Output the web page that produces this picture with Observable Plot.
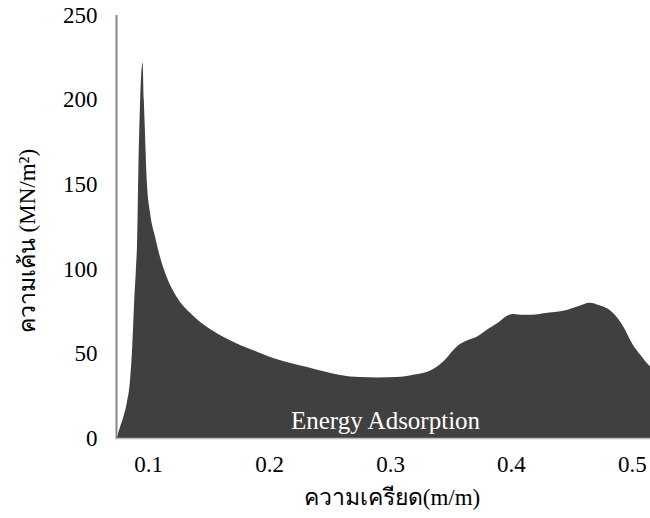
<!DOCTYPE html>
<html>
<head>
<meta charset="utf-8">
<script src="https://cdn.jsdelivr.net/npm/d3@7"></script>
<script src="https://cdn.jsdelivr.net/npm/@observablehq/plot@0.6"></script>
<style>
  html, body { margin: 0; padding: 0; background: #fff; }
  #chart svg { display: block; }
</style>
</head>
<body>
<div id="chart"></div>
<script>
const strain = [0.0741, 0.0769, 0.0796, 0.0824, 0.0851, 0.0870, 0.0885, 0.0900, 0.0910, 0.0920, 0.0935, 0.0955, 0.0965, 0.0975, 0.0989, 0.1017, 0.1058, 0.1099, 0.1155, 0.1237, 0.1347, 0.1485, 0.1620, 0.1760, 0.1900, 0.2033, 0.2170, 0.2314, 0.2450, 0.2587, 0.2752, 0.2900, 0.3050, 0.3200, 0.3360, 0.3450, 0.3550, 0.3650, 0.3720, 0.3800, 0.3900, 0.3960, 0.4020, 0.4100, 0.4170, 0.4300, 0.4460, 0.4560, 0.4650, 0.4730, 0.4810, 0.4890, 0.4950, 0.5000, 0.5070, 0.5140, 0.5200];
const stress = [0, 6.7, 12.6, 20.7, 34, 55, 80, 100, 117, 158, 200, 222, 200, 180, 153, 133, 119, 107, 95, 83.4, 74, 65.7, 59.8, 55, 51, 47.3, 44.5, 42, 39.5, 37.3, 36, 35.8, 36, 37.5, 41, 46, 54, 58, 60, 64, 68.6, 72, 73.3, 72.8, 72.8, 74, 75.7, 78, 80, 78.5, 76, 70, 63, 56, 49, 43, 40];
const yTicks = [0, 50, 100, 150, 200, 250];
const xTicks = [0.1, 0.2, 0.3, 0.4, 0.5];
const xLabel = "ความเครียด(m/m)";
const yLabel = "ความเค้น (MN/m²)";
const areaLabel = "Energy Adsorption";

const data = strain.map((s, i) => ({strain: s, stress: stress[i]}));
const font = "'Liberation Serif', 'DejaVu Serif', serif";

const chart = Plot.plot({
  width: 650,
  height: 518,
  marginLeft: 115,
  marginRight: 0,
  marginTop: 15,
  marginBottom: 80,
  style: {fontFamily: font, fontSize: "23px", color: "#000", background: "#fff"},
  x: {domain: [0.0727, 0.5149], label: null},
  y: {domain: [0, 250], label: null},
  marks: [
    Plot.areaY(data, {x: "strain", y: "stress", fill: "#404040", curve: "monotone-x", clip: true}),
    Plot.ruleY([0], {stroke: "#bdbdbd", strokeWidth: 1.5}),
    Plot.ruleX([0.0727], {stroke: "#888", strokeWidth: 2, dx: 1}),
    Plot.axisX({ticks: xTicks, tickSize: 0, tickPadding: 17, fontSize: 23, label: null, tickFormat: d => String(d)}),
    Plot.axisY({ticks: yTicks, tickSize: 0, tickPadding: 18, fontSize: 23, label: null}),
    Plot.text([areaLabel], {x: 0.2959, y: 10.6, text: d => d, fill: "#fff", fontSize: 25}),
    Plot.text([xLabel], {frameAnchor: "bottom", lineAnchor: "middle", textAnchor: "middle", dy: 59, dx: 9, text: d => d, fontSize: 23}),
    Plot.text([yLabel], {frameAnchor: "left", lineAnchor: "middle", textAnchor: "middle", dx: -88, dy: 14, rotate: -90, text: d => d, fontSize: 23})
  ]
});
document.getElementById("chart").append(chart);
</script>
</body>
</html>
